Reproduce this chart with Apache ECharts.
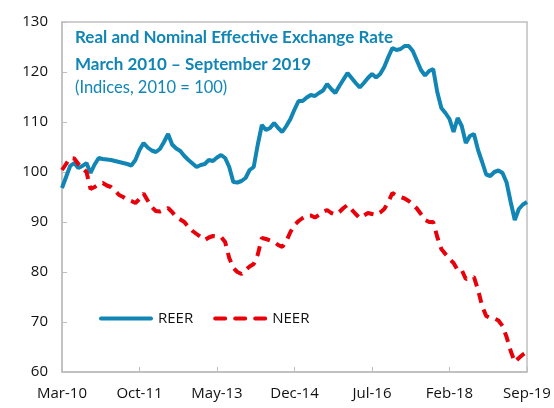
<!DOCTYPE html>
<html>
<head>
<meta charset="utf-8">
<script src="https://cdn.jsdelivr.net/npm/echarts@6/dist/echarts.min.js"></script>
<style>
  html, body { margin: 0; padding: 0; background: #fff; }
  #chart { width: 554px; height: 408px; }
</style>
</head>
<body>
<div id="chart"></div>
<script>
const months = ['Jan', 'Feb', 'Mar', 'Apr', 'May', 'Jun', 'Jul', 'Aug', 'Sep', 'Oct', 'Nov', 'Dec'];

// monthly, Mar-10 .. Sep-19
const categories = [];
for (let k = 0; k < 115; k++) {
  const m = (2 + k) % 12;
  const y = 10 + Math.floor((2 + k) / 12);
  categories.push(months[m] + '-' + y);
}

const reer = [
  96.8, 99.0, 101.2, 101.8, 100.8, 101.2, 101.8, 99.8, 101.5, 102.8,
  102.6, 102.5, 102.4, 102.2, 102.0, 101.8, 101.6, 101.3, 102.4, 104.4,
  105.8, 104.9, 104.3, 104.0, 104.6, 106.0, 107.6, 105.5, 104.7, 104.2,
  103.2, 102.4, 101.7, 101.0, 101.4, 101.6, 102.4, 102.2, 102.9, 103.4,
  102.8, 101.0, 98.0, 97.9, 98.2, 98.8, 100.4, 101.0, 105.5, 109.4,
  108.4, 108.8, 109.8, 108.8, 108.0, 109.2, 110.6, 112.5, 114.2, 114.2,
  114.9, 115.4, 115.2, 115.8, 116.3, 117.6, 116.6, 115.8, 117.2, 118.5,
  119.8, 118.8, 117.8, 116.9, 117.8, 118.8, 119.6, 118.9, 119.6, 121.0,
  123.0, 124.8, 124.4, 124.6, 125.2, 125.2, 124.2, 122.3, 120.4, 119.3,
  120.2, 120.6, 116.0, 112.8, 111.8, 110.6, 108.0, 110.8, 109.2, 105.8,
  107.2, 107.6, 104.4, 102.0, 99.5, 99.2, 100.0, 100.3, 99.8, 97.9,
  94.0, 90.4, 92.6, 93.5, 94.0
];

const neer = [
  100.4, 101.6, 102.8, 102.7, 101.6, 100.8, 100.0, 96.6, 97.0, 97.5,
  97.8, 97.3, 97.0, 96.3, 95.4, 95.0, 94.5, 94.2, 93.8, 94.6,
  95.7, 94.3, 93.0, 92.2, 92.1, 92.4, 92.8, 92.0, 91.0, 90.5,
  90.0, 89.0, 88.2, 87.6, 87.0, 86.4, 86.9, 87.2, 87.1, 87.0,
  86.0, 82.8, 80.8, 80.0, 79.6, 80.4, 81.1, 81.6, 83.5, 86.8,
  86.6, 86.3, 86.0, 85.4, 85.0, 86.2, 88.0, 89.4, 90.2, 90.8,
  91.3, 91.3, 90.9, 91.4, 92.0, 92.4, 91.8, 91.5, 92.0, 92.8,
  93.4, 92.5, 91.6, 90.8, 91.3, 91.8, 91.6, 91.4, 91.9, 92.6,
  94.0, 95.8, 95.3, 95.0, 94.7, 94.2, 93.5, 92.7, 91.6, 90.4,
  90.0, 90.0, 87.0, 84.6, 83.6, 82.6, 81.8, 80.4, 80.4, 78.6,
  78.8, 79.0, 76.4, 73.2, 71.2, 70.8, 70.7, 70.3, 69.2, 67.0,
  64.2, 62.0, 62.8, 63.5, 64.0
];

const blue = '#1186b5';
const red = '#e8000b';
const axisFont = "'Open Sans', 'Noto Sans', sans-serif";

// legend icons: a solid bar and a three-dash bar
const solidIcon = 'path://M2,0h50a2,2 0 0 1 0,4h-50a2,2 0 0 1 0,-4z';
const dashIcon = 'path://M2,0h10a2,2 0 0 1 0,4h-10a2,2 0 0 1 0,-4z M22,0h10a2,2 0 0 1 0,4h-10a2,2 0 0 1 0,-4z M42,0h10a2,2 0 0 1 0,4h-10a2,2 0 0 1 0,-4z';

const chart = echarts.init(document.getElementById('chart'));
chart.setOption({
  animation: false,
  title: {
    left: 70,
    top: 19,
    text: 'Real and Nominal Effective Exchange Rate\nMarch 2010 \u2013 September 2019',
    subtext: '(Indices, 2010 = 100)',
    itemGap: 1,
    textStyle: {
      color: blue,
      fontFamily: 'Lato',
      fontWeight: 'bold',
      fontSize: 17,
      lineHeight: 27
    },
    subtextStyle: {
      color: blue,
      fontFamily: 'Lato',
      fontSize: 16.5
    }
  },
  legend: {
    left: 94,
    top: 306,
    itemWidth: 54,
    itemHeight: 4,
    itemGap: 20,
    textStyle: { color: '#111', fontSize: 15, fontFamily: axisFont },
    data: [
      { name: 'REER', icon: solidIcon },
      { name: 'NEER', icon: dashIcon }
    ]
  },
  grid: {
    left: 62,
    right: 27,
    top: 22,
    bottom: 36,
    show: true,
    borderColor: '#bfbfbf',
    borderWidth: 1.5
  },
  xAxis: {
    type: 'category',
    data: categories,
    boundaryGap: false,
    axisLine: { lineStyle: { color: '#bfbfbf', width: 1.5 } },
    axisTick: { inside: true, length: 5, interval: 18, lineStyle: { color: '#bfbfbf' } },
    axisLabel: { interval: 18, margin: 14, color: '#111', fontSize: 15, fontFamily: axisFont }
  },
  yAxis: {
    type: 'value',
    min: 60,
    max: 130,
    interval: 10,
    splitLine: { show: false },
    axisLine: { show: true, lineStyle: { color: '#bfbfbf', width: 1.5 } },
    axisTick: { show: true, inside: true, length: 5, lineStyle: { color: '#bfbfbf' } },
    axisLabel: { margin: 14, color: '#111', fontSize: 15, fontFamily: axisFont }
  },
  series: [
    {
      name: 'REER',
      type: 'line',
      data: reer,
      symbol: 'none',
      lineStyle: { color: blue, width: 4 },
      itemStyle: { color: blue }
    },
    {
      name: 'NEER',
      type: 'line',
      data: neer,
      symbol: 'none',
      lineStyle: { color: red, width: 4, type: [10, 7] },
      itemStyle: { color: red }
    }
  ]
});
</script>
</body>
</html>
